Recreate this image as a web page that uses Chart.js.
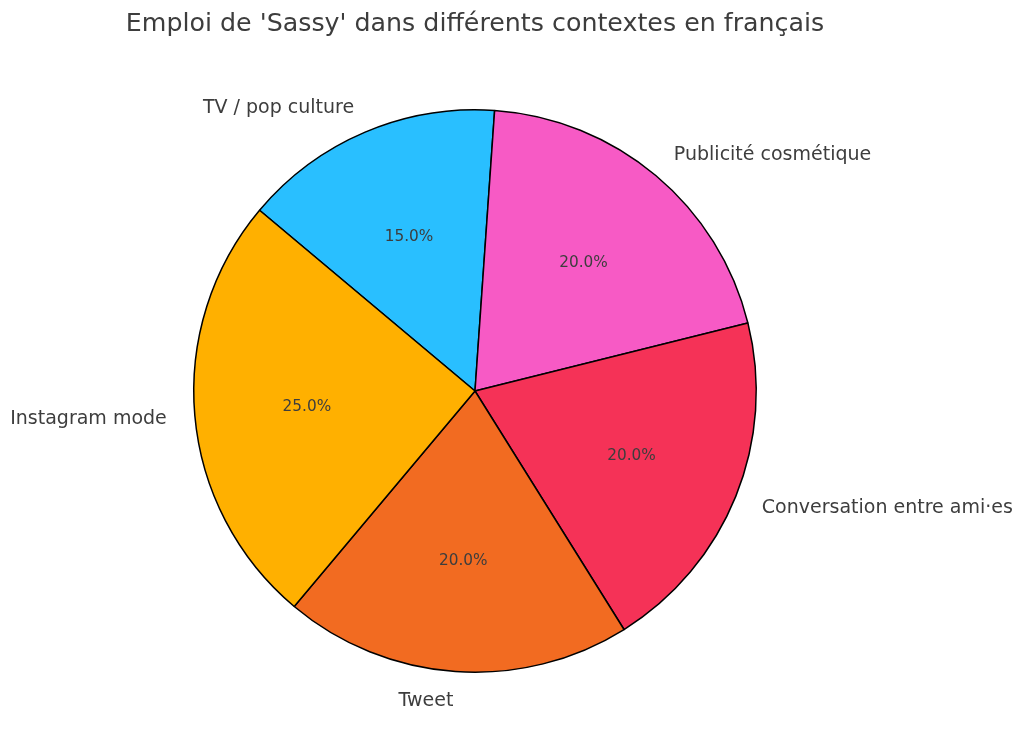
<!DOCTYPE html>
<html>
<head>
<meta charset="utf-8">
<script src="https://cdn.jsdelivr.net/npm/chart.js@4"></script>
<style>
html,body{margin:0;padding:0;background:#fff;}
#wrap{width:1024px;height:754px;}
</style>
</head>
<body>
<div id="wrap"><canvas id="c" width="1024" height="754"></canvas></div>
<script>
const titleText = "Emploi de 'Sassy' dans différents contextes en français";
const categories = ["Instagram mode", "Tweet", "Conversation entre ami·es", "Publicité cosmétique", "TV / pop culture"];
const values = [25, 20, 20, 20, 15];
const colors = ["#FFB000", "#F26B21", "#F53257", "#F75AC5", "#29BFFF"];

// Chart.js draws clockwise; reverse to mimic counter-clockwise ordering
const labelsCJ = categories.slice().reverse();
const valuesCJ = values.slice().reverse();
const colorsCJ = colors.slice().reverse();
const total = values.reduce((a, b) => a + b, 0);

const textPlugin = {
  id: 'textPlugin',
  afterDraw(chart) {
    const ctx = chart.ctx;
    const meta = chart.getDatasetMeta(0);
    ctx.save();
    ctx.fillStyle = '#3d3d3d';
    ctx.font = '25.3px "DejaVu Sans"';
    ctx.textAlign = 'center';
    ctx.textBaseline = 'middle';
    ctx.fillText(titleText, 475, 24.5);
    meta.data.forEach((arc, i) => {
      const p = arc.getProps(['x', 'y', 'startAngle', 'endAngle', 'outerRadius'], true);
      const mid = (p.startAngle + p.endAngle) / 2;
      const r = p.outerRadius;
      const cx = Math.cos(mid), cy = Math.sin(mid);
      // outer label
      ctx.font = '19px "DejaVu Sans"';
      ctx.textBaseline = 'middle';
      ctx.textAlign = cx >= 0 ? 'left' : 'right';
      ctx.fillText(labelsCJ[i], p.x + cx * r * 1.1, p.y + cy * r * 1.1 + 1.5);
      // percent
      ctx.font = '15.3px "DejaVu Sans"';
      ctx.textAlign = 'center';
      const pct = (valuesCJ[i] / total * 100).toFixed(1) + '%';
      ctx.fillText(pct, p.x + cx * r * 0.6, p.y + cy * r * 0.6 + 1.5);
    });
    ctx.restore();
  }
};

new Chart(document.getElementById('c'), {
  type: 'pie',
  data: {
    labels: labelsCJ,
    datasets: [{
      data: valuesCJ,
      backgroundColor: colorsCJ,
      borderColor: '#000000',
      borderWidth: 1.5,
      borderAlign: 'center',
      hoverOffset: 0
    }]
  },
  options: {
    responsive: false,
    animation: false,
    devicePixelRatio: 1,
    rotation: -50,
    layout: { padding: { left: 193, right: 267, top: 109, bottom: 81 } },
    plugins: {
      legend: { display: false },
      title: { display: false },
      tooltip: { enabled: false }
    }
  },
  plugins: [textPlugin]
});
</script>
</body>
</html>
